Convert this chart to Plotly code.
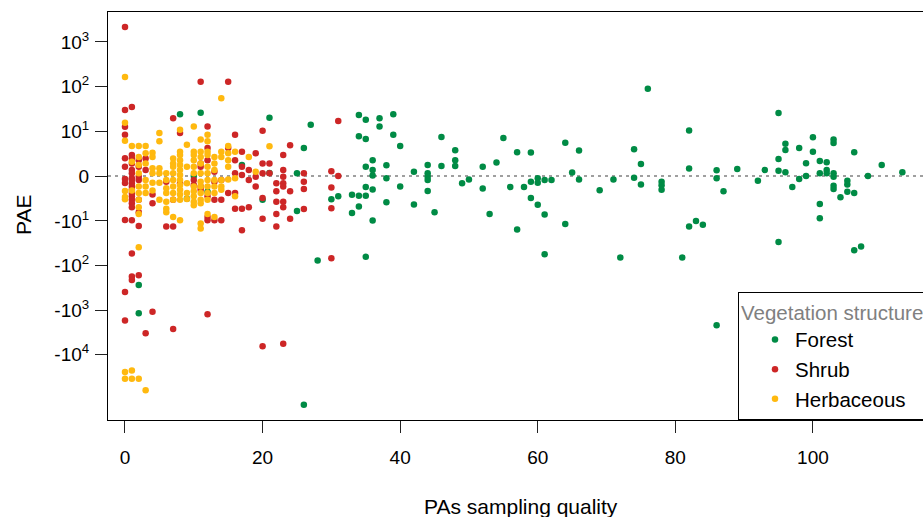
import numpy as np
import plotly.graph_objects as go

# ---------------- data ----------------
forest_x = [2, 2, 8, 9, 10, 11, 12, 17, 20, 21, 21, 25, 25, 26, 26, 27, 28,
            30, 31, 34, 35, 37, 39, 37, 34, 35, 39, 40, 36, 35, 36, 36, 38, 38, 35, 36, 33, 34, 35, 40,
            34, 33, 36, 38, 42, 42, 44, 44, 44, 44, 44, 45, 46, 46, 48, 48, 48, 49, 50, 52, 52, 53, 54,
            55, 56, 57, 57, 58, 59, 59, 59, 60, 60, 60, 61, 61, 62, 64, 64, 65, 66, 66, 69, 71, 35, 61, 72,
            76, 74, 75, 74, 75, 78, 78, 78, 82, 82, 82, 83, 84, 86, 86, 87, 89, 92, 93, 95, 95, 95,
            96, 96, 96, 98, 98, 97, 99, 99, 100, 100, 101, 101, 101, 101, 102, 102, 102, 103, 103, 103,
            103, 103, 103, 104, 105, 105, 105, 106, 106, 108, 110, 113, 95, 106, 107, 81, 86]
forest_pae = [-275, -1180, 24, -2.9, 0.0, 26, -1.8, 1.2, -3.1, 20, 0.3, 0.28, -5.9, 4.0, -132000, 14, -78,
              -3.0, -2.5, 23, 18, 19.5, 24, 12.7, 7.6, 6.6, 8.2, 4.5, 1.8, 0.99, 0.62, 0.05, 1.15, -0.24, -1.2, -1.5, -2.25, -2.4, -2.4, -1.14,
              -4.6, -6.6, -9.8, -3.6, 0.45, -4.1, 1.18, 0.28, -0.07, -0.41, -1.7, -6.3, 7.3, 1.07, 3.5, 1.8, 1.07, -0.77, -0.35, 0.99, -1.38, -6.9, 1.5,
              6.9, -1.2, 3.1, -15.6, -1.2, 3.05, -0.6, -2.8, -0.24, -0.7, -4.2, -0.41, -7.1, -0.41, 5.35, -11.8, 0.35, 3.45, -0.35, -1.6, -0.35, -64, -56, -67,
              89, 3.7, 1.33, -0.17, -0.91, -0.59, -1.0, -1.55, 10.3, 0.8, -13.4, -10, -12.3, 0.6, -0.24, -1.75, 0.75, -0.5, 0.62, 25.7, 1.98, 0.55,
              5.05, 3.55, 0.38, 4.0, -0.31, -1.2, 1.42, 0.0, 7.2, 3.2, 1.7, 0.28, -4.0, -8.7, 1.55, 0.62, 0.28, 6.4, 5.3, 0.28,
              -0.07, -1.04, -1.45, -2.65, -0.5, -0.9, -1.8, 3.1, -1.98, 0.0, 1.18, 0.38, -30, -46, -38, -67, -2190]

shrub_x = [0, 0, 0, 0, 0, 0, 0, 0, 0, 0, 0,
           1, 1, 1, 1, 1, 1, 1, 1, 1, 1, 1, 1, 1, 1, 1, 1, 1, 1, 1, 1,
           2, 2, 2, 2, 2, 2, 2, 2,
           3, 3, 3, 4, 4, 4, 6, 6, 7, 7, 7, 7, 8, 8, 10, 10,
           11, 11, 11, 11, 11, 12, 12, 12, 12, 12, 12, 12,
           13, 13, 13, 13, 14, 14, 14, 15, 15, 15,
           16, 16, 16, 16, 16, 17, 17, 17, 17, 17, 18, 18, 18, 19, 19, 19,
           20, 20, 20, 20, 20, 20, 21, 21, 22, 22, 22, 22, 22,
           23, 23, 23, 23, 23, 23, 23, 23, 24, 24, 24, 26, 26, 26, 26,
           30, 30, 30, 30, 31, 31]
shrub_pae = [2150, 30, 12.5, 8.3, 2.1, 1.0, -0.3, -0.75, -9.6, -394, -1700,
             35, 2.6, 2.05, 1.37, 0.62, 0.28, -0.24, -0.41, -0.77, -1.14, -1.55, -1.98, -2.5, -3.1, -3.85, -4.8, -9.7, -54, -178, -213,
             1.8, 0.99, -0.07, -0.41, -3.1, -6.3, -13, -167,
             2.05, 0.62, -3310, -2.2, -3.85, -1090, -0.59, -13.5, 19.5, -3.1, -13.5, -2650, 9.0, -0.77, -0.41, -0.95,
             129, 1.37, 0.99, -1.14, -1.55, 12.7, 4.0, 1.8, -2.5, -8.2, -9.7, -1240,
             0.45, -0.59, -3.1, -9.7, -0.41, -3.1, -9.7, 129, 4.0, -1.98,
             8.3, 1.8, 0.28, -1.98, -5.2, 3.2, 0.99, 0.1, -5.2, -16.2, 0.62, -0.41, -4.8, 2.9, -0.07, -1.14,
             10.2, 1.37, 0.28, -2.8, -8.9, -6450, 1.37, 0.28, -0.77, -1.75, -3.5, -6.9, -13.5,
             2.6, 0.62, -0.07, -0.77, -1.14, -3.5, -4.8, -5650, 4.7, -1.75, -8.9, 0.28, -0.59, -1.45, -5.3,
             0.5, -1.27, -5.1, -69, 17, 0.0]

herb_x = [0, 0, 0, 0, 0, 0, 0, 0,
          1, 1, 1, 1, 1,
          2, 2, 2, 2, 2, 2, 2, 2, 2, 2, 2,
          3, 3, 3, 3, 3, 3, 3,
          4, 4, 4, 4, 4, 4,
          5, 5, 5, 5, 5, 5,
          6, 6, 6, 6, 6, 6, 6,
          7, 7, 7, 7, 7, 7, 7, 7, 7,
          8, 8, 8, 8, 8, 8, 8, 8, 8, 8, 8, 8, 8,
          9, 9, 9, 9, 9,
          10, 10, 10, 10, 10, 10, 10, 10, 10, 10, 10,
          11, 11, 11, 11, 11, 11, 11, 11, 11, 11, 11, 11,
          12, 12, 12, 12, 12, 12, 12, 12, 12, 12, 12,
          13, 13, 13, 13, 13, 13, 13,
          14, 14, 14, 14, 14, 14,
          15, 15, 15, 15, 15,
          16, 16, 16, 18, 19, 21]
herb_pae = [163, 15.4, 6.0, -1.7, -2.6, -3.0, -24300, -34300,
            4.5, 1.6, -1.63, -22600, -34300,
            4.5, 2.3, 1.18, 0.28, -1.14, -1.98, -3.1, -4.8, -6.9, -39, -34300,
            4.5, 2.9, 1.37, -0.41, -1.14, -1.98, -62400,
            3.0, 2.3, 0.81, 0.28, -0.7, -1.63,
            9.0, 5.8, 0.81, 0.28, -0.7, -3.1,
            0.28, -0.41, -1.34, -1.98, -3.5, -5.2, -6.3,
            2.05, 1.37, 0.99, 0.28, -0.41, -1.14, -1.98, -3.1, -8.2,
            10.7, 3.2, 2.6, 1.8, 1.18, 0.62, 0.1, -0.41, -0.95, -1.55, -2.2, -3.1, -9.7,
            4.8, 0.99, -0.77, -1.98, -2.97,
            12.7, 3.2, 2.6, 1.8, 0.99, 0.28, -1.14, -1.75, -2.5, -3.5, -4.3,
            6.4, 3.2, 2.3, 1.37, 0.28, -0.59, -1.14, -1.98, -3.1, -3.85, -11.5, -14.8,
            8.3, 5.8, 3.2, 2.6, 0.99, 0.28, -0.41, -1.14, -1.98, -3.1, -6.9,
            2.3, 1.37, 0.62, -0.41, -1.14, -1.98, -8.2,
            55, 3.2, 2.3, -0.41, -1.14, -1.55,
            4.5, 2.9, 1.8, 0.99, -0.35,
            3.2, -0.24, -2.5, 2.3, 0.45, 4.4]

y_tick_values = [1e3, 1e2, 1e1, 0, -1e1, -1e2, -1e3, -1e4]
y_tick_labels = ["10<sup>3</sup>", "10<sup>2</sup>", "10<sup>1</sup>", "0",
                 "-10<sup>1</sup>", "-10<sup>2</sup>", "-10<sup>3</sup>", "-10<sup>4</sup>"]
x_tick_values = [0, 20, 40, 60, 80, 100]

series = [("Forest", forest_x, forest_pae, "#008B45"),
          ("Shrub", shrub_x, shrub_pae, "#CD2626"),
          ("Herbaceous", herb_x, herb_pae, "#FFB90F")]


def pseudo_log(v):
    # symmetric log scale: ~log10 for |v| >= 10, linear near zero
    return np.arcsinh(np.asarray(v, dtype=float) / 2.0) / np.log(10)


FONT = "Liberation Sans, Arial, sans-serif"

fig = go.Figure()
for name, xs, ys, col in series:
    fig.add_trace(go.Scatter(
        x=xs, y=pseudo_log(ys), mode="markers", name=name,
        marker=dict(color=col, size=6.5, line=dict(width=0)),
        customdata=ys, hovertemplate="%{x}, %{customdata}<extra>" + name + "</extra>"))

fig.add_shape(type="line", xref="paper", x0=0, x1=1, yref="y", y0=0, y1=0,
              line=dict(color="#808080", width=1.6, dash="3px,4px"), layer="below")

fig.update_layout(
    width=923, height=517,
    margin=dict(l=108, r=0, t=12, b=97, autoexpand=False),
    paper_bgcolor="white", plot_bgcolor="white",
    font=dict(family=FONT, size=19, color="black"),
    showlegend=True,
    legend=dict(
        x=(738 - 108) / 815, xanchor="left", y=0, yanchor="bottom",
        bordercolor="black", borderwidth=1, bgcolor="white",
        font=dict(family=FONT, size=20.5, color="black"),
        title=dict(text="Vegetation structure", font=dict(family=FONT, size=20.5, color="#808080")),
        indentation=16, tracegroupgap=0,
    ),
    xaxis=dict(range=[-2.47, 116.0], tickvals=x_tick_values, ticks="outside", ticklen=12,
               tickwidth=1, tickcolor="#222", showline=True, linecolor="black", linewidth=1,
               mirror=True, showgrid=False, zeroline=False, ticklabelstandoff=8,
               tickfont=dict(size=19)),
    yaxis=dict(range=[-5.459, 3.669], tickvals=list(pseudo_log(y_tick_values)),
               ticktext=y_tick_labels, ticks="outside", ticklen=12, tickwidth=1,
               tickcolor="#222", showline=True, linecolor="black", linewidth=1,
               mirror=False, showgrid=False, zeroline=False, ticklabelstandoff=2,
               tickfont=dict(size=19)),
    annotations=[
        dict(text="PAs sampling quality", xref="paper", yref="paper",
             x=(521 - 108) / 815, y=(420 - 507) / 408, xanchor="center", yanchor="middle",
             showarrow=False, font=dict(size=21)),
        dict(text="PAE", xref="paper", yref="paper", textangle=-90,
             x=(23 - 108) / 815, y=(420 - 215) / 408, xanchor="center", yanchor="middle",
             showarrow=False, font=dict(size=21)),
    ],
)

fig.write_html("out.html", config={"displayModeBar": False},
               post_script="document.body.style.margin='0px';document.body.style.overflow='hidden';")
